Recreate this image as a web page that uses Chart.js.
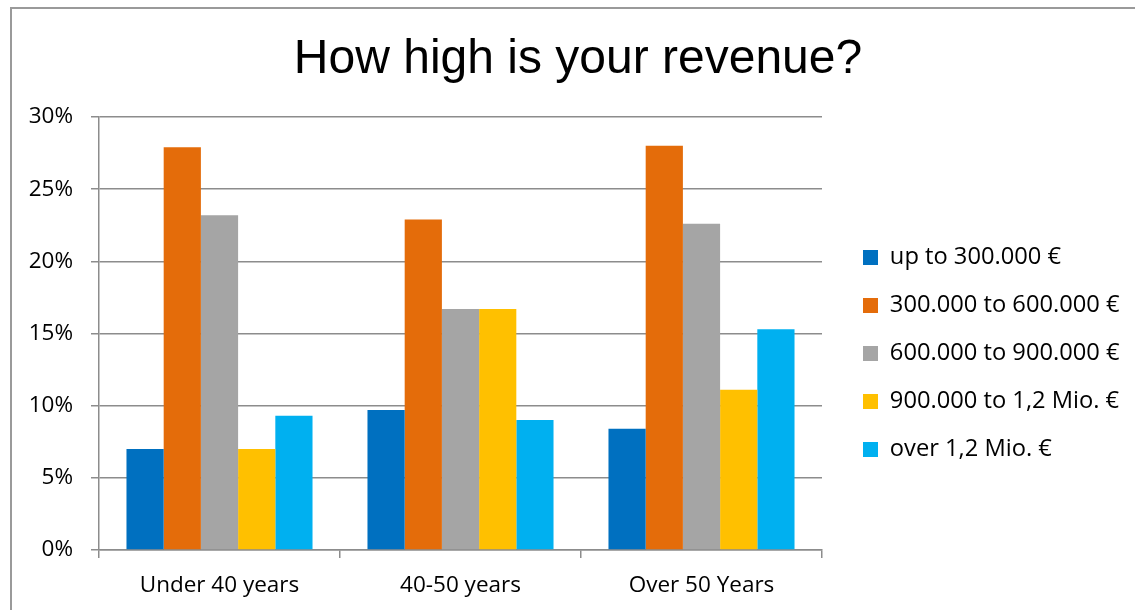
<!DOCTYPE html>
<html lang="en">
<head>
  <meta charset="UTF-8">
  <title>How high is your revenue?</title>
  <script src="https://cdn.jsdelivr.net/npm/chart.js"></script>
  <style>
    html, body { margin: 0; padding: 0; background: #fff; overflow: hidden; }
    #frame { position: absolute; left: 10px; top: 7px; width: 1200px; height: 700px; border: 2px solid #9a9a9a; }
    #wrap { position: absolute; left: 0; top: 0; width: 1135px; height: 610px; }
  </style>
</head>
<body>
  <div id="frame"></div>
  <div id="wrap"><canvas id="chart"></canvas></div>

  <script>
    // share of respondents (%) per age group
    const categories = ['Under 40 years', '40-50 years', 'Over 50 Years'];
    const seriesNames = ['up to 300.000 €', '300.000 to 600.000 €', '600.000 to 900.000 €', '900.000 to 1,2 Mio. €', 'over 1,2 Mio. €'];
    const upTo300k = [7.0, 9.7, 8.4];
    const from300to600k = [27.9, 22.9, 28.0];
    const from600to900k = [23.2, 16.7, 22.6];
    const from900kto12m = [7.0, 16.7, 11.1];
    const over12m = [9.3, 9.0, 15.3];
    const yTicks = [0, 5, 10, 15, 20, 25, 30];

    const colors = ['#0070c0', '#e46c0a', '#a5a5a5', '#ffc000', '#00b0f0'];
    const values = [upTo300k, from300to600k, from600to900k, from900kto12m, over12m];

    const axisColor = '#8c8c8c';
    const tickFont = { family: 'Open Sans', size: 22.5 };

    // keeps the legend block a fixed width and nudges it next to the plot
    const legendSlot = {
      id: 'legendSlot',
      beforeLayout(chart, args, opts) {
        const lg = chart.legend;
        if (lg && !lg.$fixed) {
          const fit = lg.fit.bind(lg);
          lg.fit = () => { fit(); lg.width = opts.width; };
          lg.$fixed = true;
        }
      },
      afterLayout(chart, args, opts) {
        const lg = chart.legend;
        if (!lg) return;
        lg.left += opts.dx; lg.right += opts.dx;
        lg.top += opts.dy; lg.bottom += opts.dy;
      }
    };

    new Chart(document.getElementById('chart'), {
      type: 'bar',
      data: {
        labels: categories,
        datasets: seriesNames.map((name, i) => ({
          label: name,
          data: values[i],
          backgroundColor: colors[i],
          borderWidth: 0,
          categoryPercentage: 0.772,
          barPercentage: 1
        }))
      },
      plugins: [legendSlot],
      options: {
        responsive: true,
        maintainAspectRatio: false,
        animation: false,
        layout: { padding: { left: 21, right: 0, top: 0, bottom: 0 } },
        plugins: {
          title: {
            display: true,
            text: 'How high is your revenue?',
            color: '#000',
            font: { family: 'Liberation Sans', size: 48, weight: 'normal', lineHeight: 1.2 },
            padding: { top: 31, bottom: 28.4 }
          },
          legend: {
            position: 'right',
            fullSize: false,
            align: 'center',
            labels: {
              boxWidth: 15,
              boxHeight: 15,
              padding: 24.3,
              color: '#000',
              font: { family: 'Open Sans', size: 23.7 }
            }
          },
          legendSlot: { width: 313, dx: 16.7, dy: 20 },
          tooltip: { enabled: false }
        },
        scales: {
          x: {
            grid: { display: true, drawOnChartArea: false, drawTicks: true, tickLength: 8, color: axisColor, lineWidth: 1.5, offset: true },
            border: { color: axisColor, width: 1.5 },
            ticks: { color: '#000', font: tickFont, padding: 14 },
            afterFit: s => { s.height = 60; }
          },
          y: {
            min: 0,
            max: 30,
            afterBuildTicks: s => { s.ticks = yTicks.map(v => ({ value: v })); },
            ticks: { color: '#000', font: tickFont, padding: 18, callback: v => v + '%' },
            grid: { color: axisColor, lineWidth: 1.5, tickLength: 8 },
            border: { color: axisColor, width: 1.5 },
            afterFit: s => { s.width = 78; }
          }
        }
      }
    });
  </script>
</body>
</html>
